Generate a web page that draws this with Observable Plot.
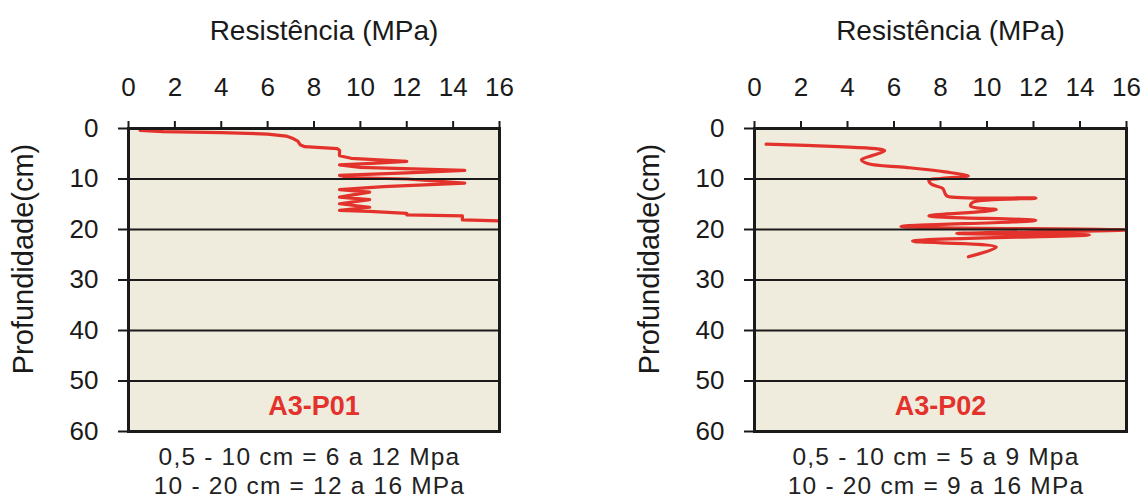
<!DOCTYPE html>
<html><head><meta charset="utf-8">
<script src="https://cdn.jsdelivr.net/npm/d3@7"></script>
<script src="https://cdn.jsdelivr.net/npm/@observablehq/plot@0.6"></script>
<style>
body{margin:0;background:#fff;font-family:Arial,"Liberation Sans",sans-serif;}
#wrap{display:flex;width:1148px;height:501px;overflow:hidden}
.panel{position:relative}
.caption{font-size:24.5px;line-height:28.5px;letter-spacing:1.2px;text-align:center;color:#222;margin-top:1px}
</style></head><body><div id="wrap"></div>
<script>
const xTicks = [0, 2, 4, 6, 8, 10, 12, 14, 16];
const yTicks = [0, 10, 20, 30, 40, 50, 60];
const gridDepths = [10, 20, 30, 40, 50];

const p01Resist = [0.5, 1.5, 4.0, 6.0, 6.8, 7.1, 7.3, 7.4, 7.6, 9.0, 9.1, 9.1, 9.6, 12.0, 10.5, 9.1, 10.0, 14.5, 12.0, 9.1, 9.5, 12.0, 14.5, 11.0, 9.1, 10.4, 9.1, 10.4, 9.1, 10.4, 9.1, 10.4, 12.0, 12.0, 14.4, 14.4, 16.0];
const p01Depth  = [0.4, 0.6, 0.8, 1.1, 1.5, 2.0, 2.5, 3.2, 3.6, 4.0, 4.3, 5.4, 5.9, 6.5, 6.9, 7.2, 7.7, 8.3, 8.8, 9.3, 9.7, 10.0, 10.8, 11.5, 12.1, 12.6, 13.6, 14.1, 14.9, 15.6, 16.2, 16.4, 16.8, 17.1, 17.3, 18.1, 18.3];

const p02Resist = [0.5, 3.6, 5.2, 5.6, 5.1, 4.6, 4.9, 6.5, 8.2, 9.2, 8.0, 7.5, 7.6, 8.1, 8.2, 8.3, 12.1, 9.4, 9.3, 10.4, 7.5, 12.1, 6.3, 16.0, 8.7, 14.4, 6.8, 10.4, 9.2];
const p02Depth  = [3.1, 3.6, 4.0, 4.4, 5.3, 6.2, 7.0, 7.7, 8.6, 9.4, 9.9, 10.2, 11.0, 11.9, 12.9, 13.4, 13.8, 14.6, 15.4, 16.1, 17.3, 18.2, 19.4, 20.1, 20.8, 21.1, 22.3, 23.5, 25.4];

const names = ["A3-P01", "A3-P02"];
const xLabel = "Resistência (MPa)";
const yLabel = "Profundidade(cm)";
const captions = [
  ["0,5 - 10 cm = 6 a 12 Mpa", "10 - 20 cm = 12 a 16 MPa"],
  ["0,5 - 10 cm = 5 a 9 Mpa", "10 - 20 cm = 9 a 16 MPa"]
];

const RED = "#e3322b";
const INK = "#1a1a1a";

function panel(resist, depth, name, caps, width, marginRight, curve) {
  const data = resist.map((r, i) => ({r, d: depth[i]}));
  const div = document.createElement("div");
  div.className = "panel";
  div.style.width = width + "px";
  const chart = Plot.plot({
    width, height: 442,
    marginTop: 128, marginBottom: 11, marginLeft: 128, marginRight,
    style: {fontFamily: "Arial, 'Liberation Sans', sans-serif", fontSize: "26px", color: INK, background: "transparent", overflow: "visible"},
    x: {domain: [0, 16]},
    y: {domain: [0, 60], reverse: true},
    marks: [
      Plot.frame({fill: "#efebdd"}),
      Plot.line(data, {x: "r", y: "d", stroke: RED, strokeWidth: 3.2, curve}),
      Plot.ruleY(gridDepths, {stroke: INK, strokeWidth: 2}),
      Plot.frame({stroke: INK, strokeWidth: 3}),
      Plot.axisX(xTicks, {anchor: "top", tickSize: 8, tickPadding: 25, strokeWidth: 2, stroke: INK, label: null}),
      Plot.axisY(yTicks, {anchor: "left", tickSize: 10, tickPadding: 20, strokeWidth: 2, stroke: INK, label: null}),
      Plot.text([xLabel], {text: d => d, frameAnchor: "top", lineAnchor: "middle", textAnchor: "middle", dy: -97, dx: 10, fontSize: 28, fill: INK}),
      Plot.text([yLabel], {text: d => d, frameAnchor: "left", lineAnchor: "middle", textAnchor: "middle", rotate: -90, dx: -105, dy: -21, fontSize: 29, fill: INK}),
      Plot.text([name], {text: d => d, frameAnchor: "bottom", lineAnchor: "middle", dy: -25, fill: RED, fontWeight: "bold", fontSize: 27})
    ]
  });
  div.appendChild(chart);
  const cap = document.createElement("div");
  cap.className = "caption";
  cap.style.marginLeft = "124px";
  cap.style.width = (width - 128 - marginRight) + "px";
  cap.innerHTML = caps.map(c => `<div>${c}</div>`).join("");
  div.appendChild(cap);
  return div;
}

const wrap = document.getElementById("wrap");
wrap.appendChild(panel(p01Resist, p01Depth, names[0], captions[0], 626, 127, "linear"));
wrap.appendChild(panel(p02Resist, p02Depth, names[1], captions[1], 522, 22, "catmull-rom"));
</script>
</body></html>
